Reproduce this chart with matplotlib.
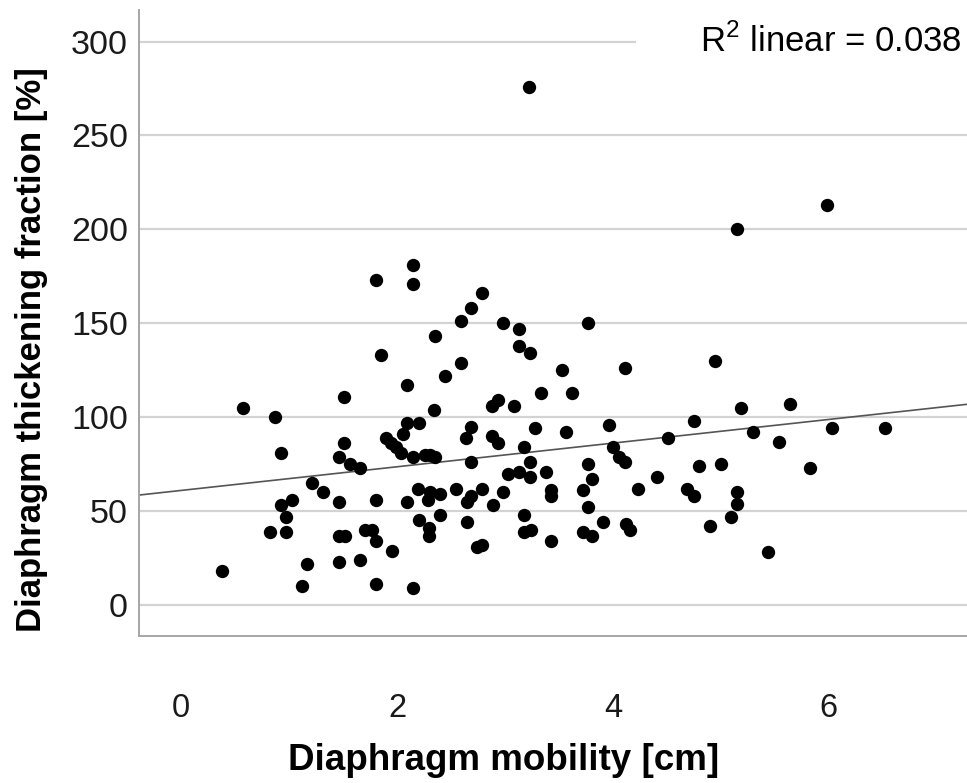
import matplotlib
matplotlib.use("Agg")
import matplotlib.pyplot as plt
import numpy as np

plt.rcParams["font.family"] = ["Liberation Sans", "DejaVu Sans"]
plt.rcParams["mathtext.fontset"] = "custom"
plt.rcParams["mathtext.rm"] = "Liberation Sans"

# diaphragm mobility [cm]
mobility = [
    5.98, 5.15, 3.22, 1.81, 2.15, 2.15, 2.79, 2.69, 2.59, 2.98,
    3.13, 3.77, 2.35, 3.13, 3.23, 1.85, 2.59, 2.44, 3.53, 4.11,
    4.95, 2.09, 1.51, 3.33, 3.62, 2.94, 2.88, 3.08, 2.34, 0.57,
    0.87, 5.19, 5.64, 4.75, 2.09, 2.20, 2.69, 3.28, 3.57, 3.96,
    5.30, 6.03, 6.52, 4.51, 5.54, 0.93, 1.51, 1.46, 1.56, 1.66,
    1.90, 1.94, 1.99, 2.04, 2.06, 2.64, 2.88, 2.94, 3.18, 4.00,
    4.06, 4.11, 2.15, 2.26, 2.31, 2.35, 2.69, 3.23, 3.77, 4.80,
    5.00, 5.83, 3.03, 3.13, 3.23, 3.38, 3.81, 4.41, 1.21, 1.31,
    1.46, 1.81, 2.09, 2.19, 2.31, 2.40, 2.29, 2.55, 2.65, 2.69,
    2.79, 2.89, 2.98, 3.43, 3.43, 3.72, 3.77, 4.23, 4.69, 4.75,
    5.15, 5.15, 5.09, 4.90, 5.44, 0.93, 1.03, 0.97, 0.82, 0.97,
    1.46, 1.52, 1.70, 1.77, 1.81, 1.95, 1.17, 1.46, 1.66, 0.38,
    1.12, 1.81, 2.15, 2.40, 2.20, 2.30, 2.30, 2.65, 3.18, 3.18,
    3.24, 3.43, 3.72, 3.81, 3.91, 4.12, 4.16, 2.74, 2.79,
]

# diaphragm thickening fraction [%]
thickening = [
    213, 200, 276, 173, 181, 171, 166, 158, 151, 150,
    147, 150, 143, 138, 134, 133, 129, 122, 125, 126,
    130, 117, 111, 113, 113, 109, 106, 106, 104, 105,
    100, 105, 107, 98, 97, 97, 95, 94, 92, 96,
    92, 94, 94, 89, 87, 81, 86, 79, 75, 73,
    89, 86, 84, 81, 91, 89, 90, 86, 84, 84,
    79, 76, 79, 80, 80, 79, 76, 76, 75, 74,
    75, 73, 70, 71, 68, 71, 67, 68, 65, 60,
    55, 56, 55, 62, 60, 59, 56, 62, 55, 58,
    62, 53, 60, 61, 58, 61, 52, 62, 62, 58,
    60, 54, 47, 42, 28, 53, 56, 47, 39, 39,
    37, 37, 40, 40, 34, 29, 22, 23, 24, 18,
    10, 11, 9, 48, 45, 41, 37, 44, 48, 39,
    40, 34, 39, 37, 44, 43, 40, 31, 32,
]

# linear fit as drawn in the reference
fit_intercept = 61.0
fit_slope = 6.3
r2_text = "R$^2$ linear = 0.038"

x_ticks = [0, 2, 4, 6]
y_ticks = [0, 50, 100, 150, 200, 250, 300]

fig = plt.figure(figsize=(9.67, 7.83), dpi=100)
ax = fig.add_axes([139 / 967, 147 / 783, 828 / 967, 626 / 783])

ax.set_xlim(-0.39, 7.28)
ax.set_ylim(-16.5, 316.8)
ax.set_xticks(x_ticks)
ax.set_yticks(y_ticks)

for yv in y_ticks:
    ax.axhline(yv, color="#d3d3d3", lw=1.6, zorder=1)

ax.axline((0, fit_intercept), slope=fit_slope, color="#555555", lw=1.2,
          zorder=2)
ax.plot(mobility, thickening, "o", color="black", ms=9.6, mec="none",
        zorder=3)

for side in ["top", "right"]:
    ax.spines[side].set_visible(False)
for side in ["left", "bottom"]:
    ax.spines[side].set_color("#a6a6a6")
    ax.spines[side].set_linewidth(1.4)

ax.tick_params(axis="x", length=0, pad=41, labelsize=23.5, labelcolor="#1a1a1a")
ax.tick_params(axis="y", length=0, pad=8, labelsize=24.5, labelcolor="#1a1a1a")

fig.text(504 / 967, 1 - 761 / 783, "Diaphragm mobility [cm]",
         ha="center", va="center", fontsize=26.5, fontweight="bold")
fig.text(32 / 967, 1 - 350 / 783, "Diaphragm thickening fraction [%]",
         ha="center", va="center", rotation=90, fontsize=25,
         fontweight="bold")

ax.text(0.994, 0.95, r2_text, transform=ax.transAxes, ha="right",
        va="center", fontsize=25, zorder=5,
        bbox=dict(boxstyle="square,pad=1.85", fc="white", ec="none"))

fig.savefig("out.png", dpi=100)
